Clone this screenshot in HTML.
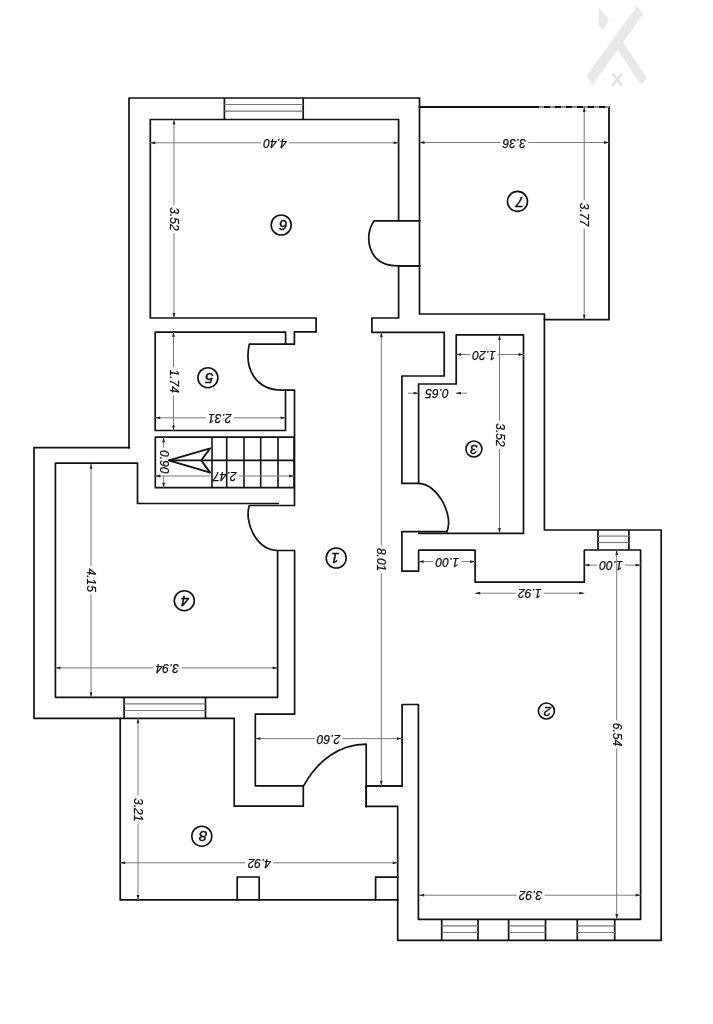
<!DOCTYPE html>
<html><head><meta charset="utf-8"><style>
html,body{margin:0;padding:0;background:#fff;}
svg{display:block;will-change:transform;}
text{font-family:"Liberation Sans",sans-serif;fill:#111;stroke:#111;stroke-width:0.25px;}
</style></head><body>
<svg width="713" height="1024" viewBox="0 0 713 1024">
<rect width="713" height="1024" fill="#fff"/>
<path d="M129,447.7 V98 H419.5 V314 H544.4 V530 H661.2 V940.3 H397.7 V806.3 H366.2 V785.9 H402.1 V704.5 H418.4 V919.3 H640.6 V550 H584.3 V582.2 H475.1 V550.2 H418.6 V571.1 H401.9 V531.6 H446.9" fill="none" stroke="#111" stroke-width="1.7" stroke-linejoin="round" stroke-linecap="round"/>
<path d="M418.7,533.4 H523.5 V334.9 H456.2 V384 H418.6 V483.4 H401.9 V376 H444.2 V332.3 H371.9 V318 H398.6 V266 H419" fill="none" stroke="#111" stroke-width="1.7" stroke-linejoin="round" stroke-linecap="round"/>
<path d="M419.7,220.8 H374.2 C364,234 366,266 398.2,265.9 H419.7" fill="none" stroke="#111" stroke-width="1.7" stroke-linejoin="round" stroke-linecap="round"/>
<path d="M398.6,220.7 V119.5 H150.3 V318 H316.1 V331.9 H294.4 V344.1 H249.3 C244,368 255,390 282,390.1 H294.5 V505.5 H249.3 C244,522 256,550 277.5,550.5 H294.6 V714.1 H255.3 V785.8 H303.3 V806.2 H234.2 V718.3 H34 V447.7 H129.4" fill="none" stroke="#111" stroke-width="1.7" stroke-linejoin="round" stroke-linecap="round"/>
<path d="M277.6,550.8 V697.3 H55.4 V463.2 H137.5 V503.5 H278.3" fill="none" stroke="#111" stroke-width="1.7" stroke-linejoin="round" stroke-linecap="round"/>
<path d="M285.6,344.1 V332.1 H155.2 V430.5 H285.5 V390.3" fill="none" stroke="#111" stroke-width="1.7" stroke-linejoin="round" stroke-linecap="round"/>
<path d="M155.3,437.2 H294.1 V487.7 H155.3 Z" fill="none" stroke="#111" stroke-width="1.7" stroke-linejoin="round" stroke-linecap="round"/>
<line x1="168.8" y1="460.4" x2="294.1" y2="460.4" stroke="#111" stroke-width="1.6" stroke-linecap="butt"/>
<line x1="212" y1="437.2" x2="212" y2="487.7" stroke="#111" stroke-width="1.6" stroke-linecap="butt"/>
<line x1="226.7" y1="437.2" x2="226.7" y2="487.7" stroke="#111" stroke-width="1.6" stroke-linecap="butt"/>
<line x1="244" y1="437.2" x2="244" y2="487.7" stroke="#111" stroke-width="1.6" stroke-linecap="butt"/>
<line x1="260.7" y1="437.2" x2="260.7" y2="487.7" stroke="#111" stroke-width="1.6" stroke-linecap="butt"/>
<line x1="278" y1="437.2" x2="278" y2="487.7" stroke="#111" stroke-width="1.6" stroke-linecap="butt"/>
<path d="M210.2,448.3 L168.8,460.4 L210.2,472.6 L201.2,460.4 Z" fill="none" stroke="#111" stroke-width="1.8" stroke-linejoin="round" stroke-linecap="round"/>
<path d="M418.7,483.4 C438,484 454,516 446.9,531.6" fill="none" stroke="#111" stroke-width="1.7" stroke-linejoin="round" stroke-linecap="round"/>
<path d="M303.9,785.4 C318,760 340,744.1 366.2,744.1 V806.8" fill="none" stroke="#111" stroke-width="1.7" stroke-linejoin="round" stroke-linecap="round"/>
<path d="M365.9,785.9 H402.1" fill="none" stroke="#111" stroke-width="1.7" stroke-linejoin="round" stroke-linecap="round"/>
<path d="M120.2,718.3 V899.9 H397.7" fill="none" stroke="#111" stroke-width="1.7" stroke-linejoin="round" stroke-linecap="round"/>
<path d="M237.2,899.9 V877 H259.2 V899.9" fill="none" stroke="#111" stroke-width="1.7" stroke-linejoin="round" stroke-linecap="round"/>
<path d="M375.6,899.9 V877.2 H397.7" fill="none" stroke="#111" stroke-width="1.7" stroke-linejoin="round" stroke-linecap="round"/>
<path d="M533,107 H419.5" fill="none" stroke="#111" stroke-width="1.8" stroke-linejoin="round" stroke-linecap="round"/>
<path d="M544.4,319.7 H609 V107" fill="none" stroke="#111" stroke-width="1.8" stroke-linejoin="round" stroke-linecap="round"/>
<line x1="533" y1="107" x2="609" y2="107" stroke="#888" stroke-width="1.8" stroke-linecap="butt"/>
<line x1="533" y1="107" x2="609" y2="107" stroke="#111" stroke-width="1.8" stroke-dasharray="6,5"/>
<line x1="224.4" y1="98" x2="224.4" y2="119" stroke="#111" stroke-width="1.7" stroke-linecap="butt"/>
<line x1="303.2" y1="98" x2="303.2" y2="119" stroke="#111" stroke-width="1.7" stroke-linecap="butt"/>
<line x1="224.4" y1="104.5" x2="303.2" y2="104.5" stroke="#777" stroke-width="1.2" stroke-linecap="butt"/>
<line x1="224.4" y1="111.2" x2="303.2" y2="111.2" stroke="#777" stroke-width="1.2" stroke-linecap="butt"/>
<line x1="124.1" y1="697.3" x2="124.1" y2="718.3" stroke="#111" stroke-width="1.7" stroke-linecap="butt"/>
<line x1="205.5" y1="697.3" x2="205.5" y2="718.3" stroke="#111" stroke-width="1.7" stroke-linecap="butt"/>
<line x1="124.1" y1="703.8" x2="205.5" y2="703.8" stroke="#777" stroke-width="1.2" stroke-linecap="butt"/>
<line x1="124.1" y1="710.5" x2="205.5" y2="710.5" stroke="#777" stroke-width="1.2" stroke-linecap="butt"/>
<line x1="598" y1="530" x2="598" y2="549.8" stroke="#111" stroke-width="1.7" stroke-linecap="butt"/>
<line x1="628.9" y1="530" x2="628.9" y2="549.8" stroke="#111" stroke-width="1.7" stroke-linecap="butt"/>
<line x1="598" y1="536.1" x2="628.9" y2="536.1" stroke="#777" stroke-width="1.2" stroke-linecap="butt"/>
<line x1="598" y1="542.5" x2="628.9" y2="542.5" stroke="#777" stroke-width="1.2" stroke-linecap="butt"/>
<line x1="441.7" y1="919.3" x2="441.7" y2="940.3" stroke="#111" stroke-width="1.7" stroke-linecap="butt"/>
<line x1="478" y1="919.3" x2="478" y2="940.3" stroke="#111" stroke-width="1.7" stroke-linecap="butt"/>
<line x1="441.7" y1="925.8" x2="478" y2="925.8" stroke="#777" stroke-width="1.2" stroke-linecap="butt"/>
<line x1="441.7" y1="932.5" x2="478" y2="932.5" stroke="#777" stroke-width="1.2" stroke-linecap="butt"/>
<line x1="508.6" y1="919.3" x2="508.6" y2="940.3" stroke="#111" stroke-width="1.7" stroke-linecap="butt"/>
<line x1="545.5" y1="919.3" x2="545.5" y2="940.3" stroke="#111" stroke-width="1.7" stroke-linecap="butt"/>
<line x1="508.6" y1="925.8" x2="545.5" y2="925.8" stroke="#777" stroke-width="1.2" stroke-linecap="butt"/>
<line x1="508.6" y1="932.5" x2="545.5" y2="932.5" stroke="#777" stroke-width="1.2" stroke-linecap="butt"/>
<line x1="577.3" y1="919.3" x2="577.3" y2="940.3" stroke="#111" stroke-width="1.7" stroke-linecap="butt"/>
<line x1="614.7" y1="919.3" x2="614.7" y2="940.3" stroke="#111" stroke-width="1.7" stroke-linecap="butt"/>
<line x1="577.3" y1="925.8" x2="614.7" y2="925.8" stroke="#777" stroke-width="1.2" stroke-linecap="butt"/>
<line x1="577.3" y1="932.5" x2="614.7" y2="932.5" stroke="#777" stroke-width="1.2" stroke-linecap="butt"/>
<line x1="150.3" y1="142.8" x2="261" y2="142.8" stroke="#7a7a7a" stroke-width="1" stroke-linecap="butt"/>
<line x1="289" y1="142.8" x2="398.6" y2="142.8" stroke="#7a7a7a" stroke-width="1" stroke-linecap="butt"/>
<polygon points="150.3,142.8 155.3,141.4 155.3,144.2" fill="#222"/>
<polygon points="398.6,142.8 393.6,141.4 393.6,144.2" fill="#222"/>
<text x="275" y="142.8" transform="rotate(180 275 142.8)" font-size="12" font-style="italic" text-anchor="middle" dominant-baseline="central">4.40</text>
<line x1="419.5" y1="142.5" x2="500.29999999999995" y2="142.5" stroke="#7a7a7a" stroke-width="1" stroke-linecap="butt"/>
<line x1="528.3" y1="142.5" x2="609" y2="142.5" stroke="#7a7a7a" stroke-width="1" stroke-linecap="butt"/>
<polygon points="419.5,142.5 424.5,141.1 424.5,143.9" fill="#222"/>
<polygon points="609.0,142.5 604.0,141.1 604.0,143.9" fill="#222"/>
<text x="514.3" y="142.5" transform="rotate(180 514.3 142.5)" font-size="12" font-style="italic" text-anchor="middle" dominant-baseline="central">3.36</text>
<line x1="174" y1="119.5" x2="174" y2="205" stroke="#7a7a7a" stroke-width="1" stroke-linecap="butt"/>
<line x1="174" y1="233" x2="174" y2="318" stroke="#7a7a7a" stroke-width="1" stroke-linecap="butt"/>
<polygon points="174.0,119.5 172.6,124.5 175.4,124.5" fill="#222"/>
<polygon points="174.0,318.0 172.6,313.0 175.4,313.0" fill="#222"/>
<text x="174" y="219" transform="rotate(90 174 219)" font-size="12" font-style="italic" text-anchor="middle" dominant-baseline="central">3.52</text>
<line x1="584.2" y1="107" x2="584.2" y2="200.5" stroke="#7a7a7a" stroke-width="1" stroke-linecap="butt"/>
<line x1="584.2" y1="228.5" x2="584.2" y2="319.7" stroke="#7a7a7a" stroke-width="1" stroke-linecap="butt"/>
<polygon points="584.2,107.0 582.8,112.0 585.6,112.0" fill="#222"/>
<polygon points="584.2,319.7 582.8,314.7 585.6,314.7" fill="#222"/>
<text x="584.2" y="214.5" transform="rotate(90 584.2 214.5)" font-size="12" font-style="italic" text-anchor="middle" dominant-baseline="central">3.77</text>
<line x1="173.5" y1="331.7" x2="173.5" y2="367.3" stroke="#7a7a7a" stroke-width="1" stroke-linecap="butt"/>
<line x1="173.5" y1="395.3" x2="173.5" y2="430.5" stroke="#7a7a7a" stroke-width="1" stroke-linecap="butt"/>
<polygon points="173.5,331.7 172.1,336.7 174.9,336.7" fill="#222"/>
<polygon points="173.5,430.5 172.1,425.5 174.9,425.5" fill="#222"/>
<text x="173.5" y="381.3" transform="rotate(90 173.5 381.3)" font-size="12" font-style="italic" text-anchor="middle" dominant-baseline="central">1.74</text>
<line x1="155.2" y1="417.8" x2="205.8" y2="417.8" stroke="#7a7a7a" stroke-width="1" stroke-linecap="butt"/>
<line x1="233.8" y1="417.8" x2="285.6" y2="417.8" stroke="#7a7a7a" stroke-width="1" stroke-linecap="butt"/>
<polygon points="155.2,417.8 160.2,416.4 160.2,419.2" fill="#222"/>
<polygon points="285.6,417.8 280.6,416.4 280.6,419.2" fill="#222"/>
<text x="219.8" y="417.8" transform="rotate(180 219.8 417.8)" font-size="12" font-style="italic" text-anchor="middle" dominant-baseline="central">2.31</text>
<line x1="163.6" y1="437.2" x2="163.6" y2="447.7" stroke="#7a7a7a" stroke-width="1" stroke-linecap="butt"/>
<line x1="163.6" y1="475.7" x2="163.6" y2="487.7" stroke="#7a7a7a" stroke-width="1" stroke-linecap="butt"/>
<polygon points="163.6,437.2 162.2,442.2 165.0,442.2" fill="#222"/>
<polygon points="163.6,487.7 162.2,482.7 165.0,482.7" fill="#222"/>
<text x="163.6" y="461.7" transform="rotate(90 163.6 461.7)" font-size="12" font-style="italic" text-anchor="middle" dominant-baseline="central">0.90</text>
<line x1="155.3" y1="476" x2="210.7" y2="476" stroke="#7a7a7a" stroke-width="1" stroke-linecap="butt"/>
<line x1="238.7" y1="476" x2="294.1" y2="476" stroke="#7a7a7a" stroke-width="1" stroke-linecap="butt"/>
<polygon points="155.3,476.0 160.3,474.6 160.3,477.4" fill="#222"/>
<polygon points="294.1,476.0 289.1,474.6 289.1,477.4" fill="#222"/>
<text x="224.7" y="476" transform="rotate(180 224.7 476)" font-size="12" font-style="italic" text-anchor="middle" dominant-baseline="central">2.47</text>
<line x1="456.2" y1="354.5" x2="470" y2="354.5" stroke="#7a7a7a" stroke-width="1" stroke-linecap="butt"/>
<line x1="498" y1="354.5" x2="523.5" y2="354.5" stroke="#7a7a7a" stroke-width="1" stroke-linecap="butt"/>
<polygon points="456.2,354.5 461.2,353.1 461.2,355.9" fill="#222"/>
<polygon points="523.5,354.5 518.5,353.1 518.5,355.9" fill="#222"/>
<text x="484" y="354.5" transform="rotate(180 484 354.5)" font-size="12" font-style="italic" text-anchor="middle" dominant-baseline="central">1.20</text>
<line x1="408" y1="393.2" x2="418.6" y2="393.2" stroke="#7a7a7a" stroke-width="1" stroke-linecap="butt"/>
<polygon points="418.6,393.2 413.6,391.8 413.6,394.6" fill="#222"/>
<line x1="455.8" y1="393.2" x2="467" y2="393.2" stroke="#7a7a7a" stroke-width="1" stroke-linecap="butt"/>
<polygon points="455.8,393.2 460.8,391.8 460.8,394.6" fill="#222"/>
<text x="437.1" y="393.2" transform="rotate(180 437.1 393.2)" font-size="12" font-style="italic" text-anchor="middle" dominant-baseline="central">0.65</text>
<line x1="499.5" y1="334.9" x2="499.5" y2="421" stroke="#7a7a7a" stroke-width="1" stroke-linecap="butt"/>
<line x1="499.5" y1="449" x2="499.5" y2="533" stroke="#7a7a7a" stroke-width="1" stroke-linecap="butt"/>
<polygon points="499.5,334.9 498.1,339.9 500.9,339.9" fill="#222"/>
<polygon points="499.5,533.0 498.1,528.0 500.9,528.0" fill="#222"/>
<text x="499.5" y="435" transform="rotate(90 499.5 435)" font-size="12" font-style="italic" text-anchor="middle" dominant-baseline="central">3.52</text>
<line x1="381.3" y1="332.3" x2="381.3" y2="545.6" stroke="#7a7a7a" stroke-width="1" stroke-linecap="butt"/>
<line x1="381.3" y1="573.6" x2="381.3" y2="785.8" stroke="#7a7a7a" stroke-width="1" stroke-linecap="butt"/>
<polygon points="381.3,332.3 379.9,337.3 382.7,337.3" fill="#222"/>
<polygon points="381.3,785.8 379.9,780.8 382.7,780.8" fill="#222"/>
<text x="381.3" y="559.6" transform="rotate(90 381.3 559.6)" font-size="12" font-style="italic" text-anchor="middle" dominant-baseline="central">8.01</text>
<line x1="418.6" y1="561.6" x2="433.2" y2="561.6" stroke="#7a7a7a" stroke-width="1" stroke-linecap="butt"/>
<line x1="461.2" y1="561.6" x2="475.1" y2="561.6" stroke="#7a7a7a" stroke-width="1" stroke-linecap="butt"/>
<polygon points="418.6,561.6 423.6,560.2 423.6,563.0" fill="#222"/>
<polygon points="475.1,561.6 470.1,560.2 470.1,563.0" fill="#222"/>
<text x="447.2" y="561.6" transform="rotate(180 447.2 561.6)" font-size="12" font-style="italic" text-anchor="middle" dominant-baseline="central">1.00</text>
<line x1="584.3" y1="565.1" x2="597" y2="565.1" stroke="#7a7a7a" stroke-width="1" stroke-linecap="butt"/>
<line x1="625" y1="565.1" x2="640.6" y2="565.1" stroke="#7a7a7a" stroke-width="1" stroke-linecap="butt"/>
<polygon points="584.3,565.1 589.3,563.7 589.3,566.5" fill="#222"/>
<polygon points="640.6,565.1 635.6,563.7 635.6,566.5" fill="#222"/>
<text x="611" y="565.1" transform="rotate(180 611 565.1)" font-size="12" font-style="italic" text-anchor="middle" dominant-baseline="central">1.00</text>
<line x1="475.1" y1="593.2" x2="515.7" y2="593.2" stroke="#7a7a7a" stroke-width="1" stroke-linecap="butt"/>
<line x1="543.7" y1="593.2" x2="584.3" y2="593.2" stroke="#7a7a7a" stroke-width="1" stroke-linecap="butt"/>
<polygon points="475.1,593.2 480.1,591.8 480.1,594.6" fill="#222"/>
<polygon points="584.3,593.2 579.3,591.8 579.3,594.6" fill="#222"/>
<text x="529.7" y="593.2" transform="rotate(180 529.7 593.2)" font-size="12" font-style="italic" text-anchor="middle" dominant-baseline="central">1.92</text>
<line x1="91" y1="463.8" x2="91" y2="566.2" stroke="#7a7a7a" stroke-width="1" stroke-linecap="butt"/>
<line x1="91" y1="594.2" x2="91" y2="697.3" stroke="#7a7a7a" stroke-width="1" stroke-linecap="butt"/>
<polygon points="91.0,463.8 89.6,468.8 92.4,468.8" fill="#222"/>
<polygon points="91.0,697.3 89.6,692.3 92.4,692.3" fill="#222"/>
<text x="91" y="580.2" transform="rotate(90 91 580.2)" font-size="12" font-style="italic" text-anchor="middle" dominant-baseline="central">4.15</text>
<line x1="55.4" y1="667.9" x2="153.4" y2="667.9" stroke="#7a7a7a" stroke-width="1" stroke-linecap="butt"/>
<line x1="181.4" y1="667.9" x2="277.6" y2="667.9" stroke="#7a7a7a" stroke-width="1" stroke-linecap="butt"/>
<polygon points="55.4,667.9 60.4,666.5 60.4,669.3" fill="#222"/>
<polygon points="277.6,667.9 272.6,666.5 272.6,669.3" fill="#222"/>
<text x="167.4" y="667.9" transform="rotate(180 167.4 667.9)" font-size="12" font-style="italic" text-anchor="middle" dominant-baseline="central">3.94</text>
<line x1="255.3" y1="738.6" x2="314.6" y2="738.6" stroke="#7a7a7a" stroke-width="1" stroke-linecap="butt"/>
<line x1="342.6" y1="738.6" x2="401.9" y2="738.6" stroke="#7a7a7a" stroke-width="1" stroke-linecap="butt"/>
<polygon points="255.3,738.6 260.3,737.2 260.3,740.0" fill="#222"/>
<polygon points="401.9,738.6 396.9,737.2 396.9,740.0" fill="#222"/>
<text x="328.6" y="738.6" transform="rotate(180 328.6 738.6)" font-size="12" font-style="italic" text-anchor="middle" dominant-baseline="central">2.60</text>
<line x1="616.7" y1="550" x2="616.7" y2="720.5" stroke="#7a7a7a" stroke-width="1" stroke-linecap="butt"/>
<line x1="616.7" y1="748.5" x2="616.7" y2="918.9" stroke="#7a7a7a" stroke-width="1" stroke-linecap="butt"/>
<polygon points="616.7,550.0 615.3,555.0 618.1,555.0" fill="#222"/>
<polygon points="616.7,918.9 615.3,913.9 618.1,913.9" fill="#222"/>
<text x="616.7" y="734.5" transform="rotate(90 616.7 734.5)" font-size="12" font-style="italic" text-anchor="middle" dominant-baseline="central">6.54</text>
<line x1="138" y1="718.3" x2="138" y2="795.7" stroke="#7a7a7a" stroke-width="1" stroke-linecap="butt"/>
<line x1="138" y1="823.7" x2="138" y2="899.9" stroke="#7a7a7a" stroke-width="1" stroke-linecap="butt"/>
<polygon points="138.0,718.3 136.6,723.3 139.4,723.3" fill="#222"/>
<polygon points="138.0,899.9 136.6,894.9 139.4,894.9" fill="#222"/>
<text x="138" y="809.7" transform="rotate(90 138 809.7)" font-size="12" font-style="italic" text-anchor="middle" dominant-baseline="central">3.21</text>
<line x1="120.2" y1="862.8" x2="245.39999999999998" y2="862.8" stroke="#7a7a7a" stroke-width="1" stroke-linecap="butt"/>
<line x1="273.4" y1="862.8" x2="397.7" y2="862.8" stroke="#7a7a7a" stroke-width="1" stroke-linecap="butt"/>
<polygon points="120.2,862.8 125.2,861.4 125.2,864.2" fill="#222"/>
<polygon points="397.7,862.8 392.7,861.4 392.7,864.2" fill="#222"/>
<text x="259.4" y="862.8" transform="rotate(180 259.4 862.8)" font-size="12" font-style="italic" text-anchor="middle" dominant-baseline="central">4.92</text>
<line x1="419.1" y1="895.2" x2="516.6" y2="895.2" stroke="#7a7a7a" stroke-width="1" stroke-linecap="butt"/>
<line x1="544.6" y1="895.2" x2="640.6" y2="895.2" stroke="#7a7a7a" stroke-width="1" stroke-linecap="butt"/>
<polygon points="419.1,895.2 424.1,893.8 424.1,896.6" fill="#222"/>
<polygon points="640.6,895.2 635.6,893.8 635.6,896.6" fill="#222"/>
<text x="530.6" y="895.2" transform="rotate(180 530.6 895.2)" font-size="12" font-style="italic" text-anchor="middle" dominant-baseline="central">3.92</text>
<circle cx="281.2" cy="225" r="10" fill="none" stroke="#111" stroke-width="1.6"/>
<text x="283.4" y="225.6" transform="rotate(180 283.4 225.6)" font-size="15" font-style="italic" text-anchor="middle" dominant-baseline="central" style="stroke-width:0.45px">6</text>
<circle cx="517.5" cy="201.4" r="10" fill="none" stroke="#111" stroke-width="1.6"/>
<text x="519.8" y="202.2" transform="rotate(180 519.8 202.2)" font-size="15" font-style="italic" text-anchor="middle" dominant-baseline="central" style="stroke-width:0.45px">7</text>
<circle cx="207.9" cy="377.7" r="10" fill="none" stroke="#111" stroke-width="1.6"/>
<text x="209.2" y="378.6" transform="rotate(180 209.2 378.6)" font-size="15" font-style="italic" text-anchor="middle" dominant-baseline="central" style="stroke-width:0.45px">5</text>
<circle cx="473.9" cy="449" r="8" fill="none" stroke="#111" stroke-width="1.6"/>
<text x="473.9" y="449" transform="rotate(180 473.9 449)" font-size="13.5" font-style="italic" text-anchor="middle" dominant-baseline="central" style="stroke-width:0.45px">3</text>
<circle cx="336.2" cy="558" r="10" fill="none" stroke="#111" stroke-width="1.6"/>
<text x="335.0" y="558" transform="rotate(180 335.0 558)" font-size="15" font-style="italic" text-anchor="middle" dominant-baseline="central" style="stroke-width:0.45px">1</text>
<circle cx="184.3" cy="600.7" r="10" fill="none" stroke="#111" stroke-width="1.6"/>
<text x="185.0" y="601.2" transform="rotate(180 185.0 601.2)" font-size="15" font-style="italic" text-anchor="middle" dominant-baseline="central" style="stroke-width:0.45px">4</text>
<circle cx="201.8" cy="836.2" r="10" fill="none" stroke="#111" stroke-width="1.6"/>
<text x="203.1" y="836.4" transform="rotate(180 203.1 836.4)" font-size="15" font-style="italic" text-anchor="middle" dominant-baseline="central" style="stroke-width:0.45px">8</text>
<circle cx="546.4" cy="711" r="8" fill="none" stroke="#111" stroke-width="1.6"/>
<text x="547.4" y="711.5" transform="rotate(180 547.4 711.5)" font-size="13.5" font-style="italic" text-anchor="middle" dominant-baseline="central" style="stroke-width:0.45px">2</text>
<g fill="#e8e8e8"><polygon points="598.7,7.6 609.1,20 602.7,30.5 598.7,25"/><polygon points="637.1,6 643.1,14 592.4,85.2 587,75"/><polygon points="614,44 620,38 647,78 641,85"/><path d="M612.5,73.5 L622,86 M622,73.5 L612,86" stroke="#e2e2e2" stroke-width="2.6" fill="none"/></g>
</svg></body></html>
